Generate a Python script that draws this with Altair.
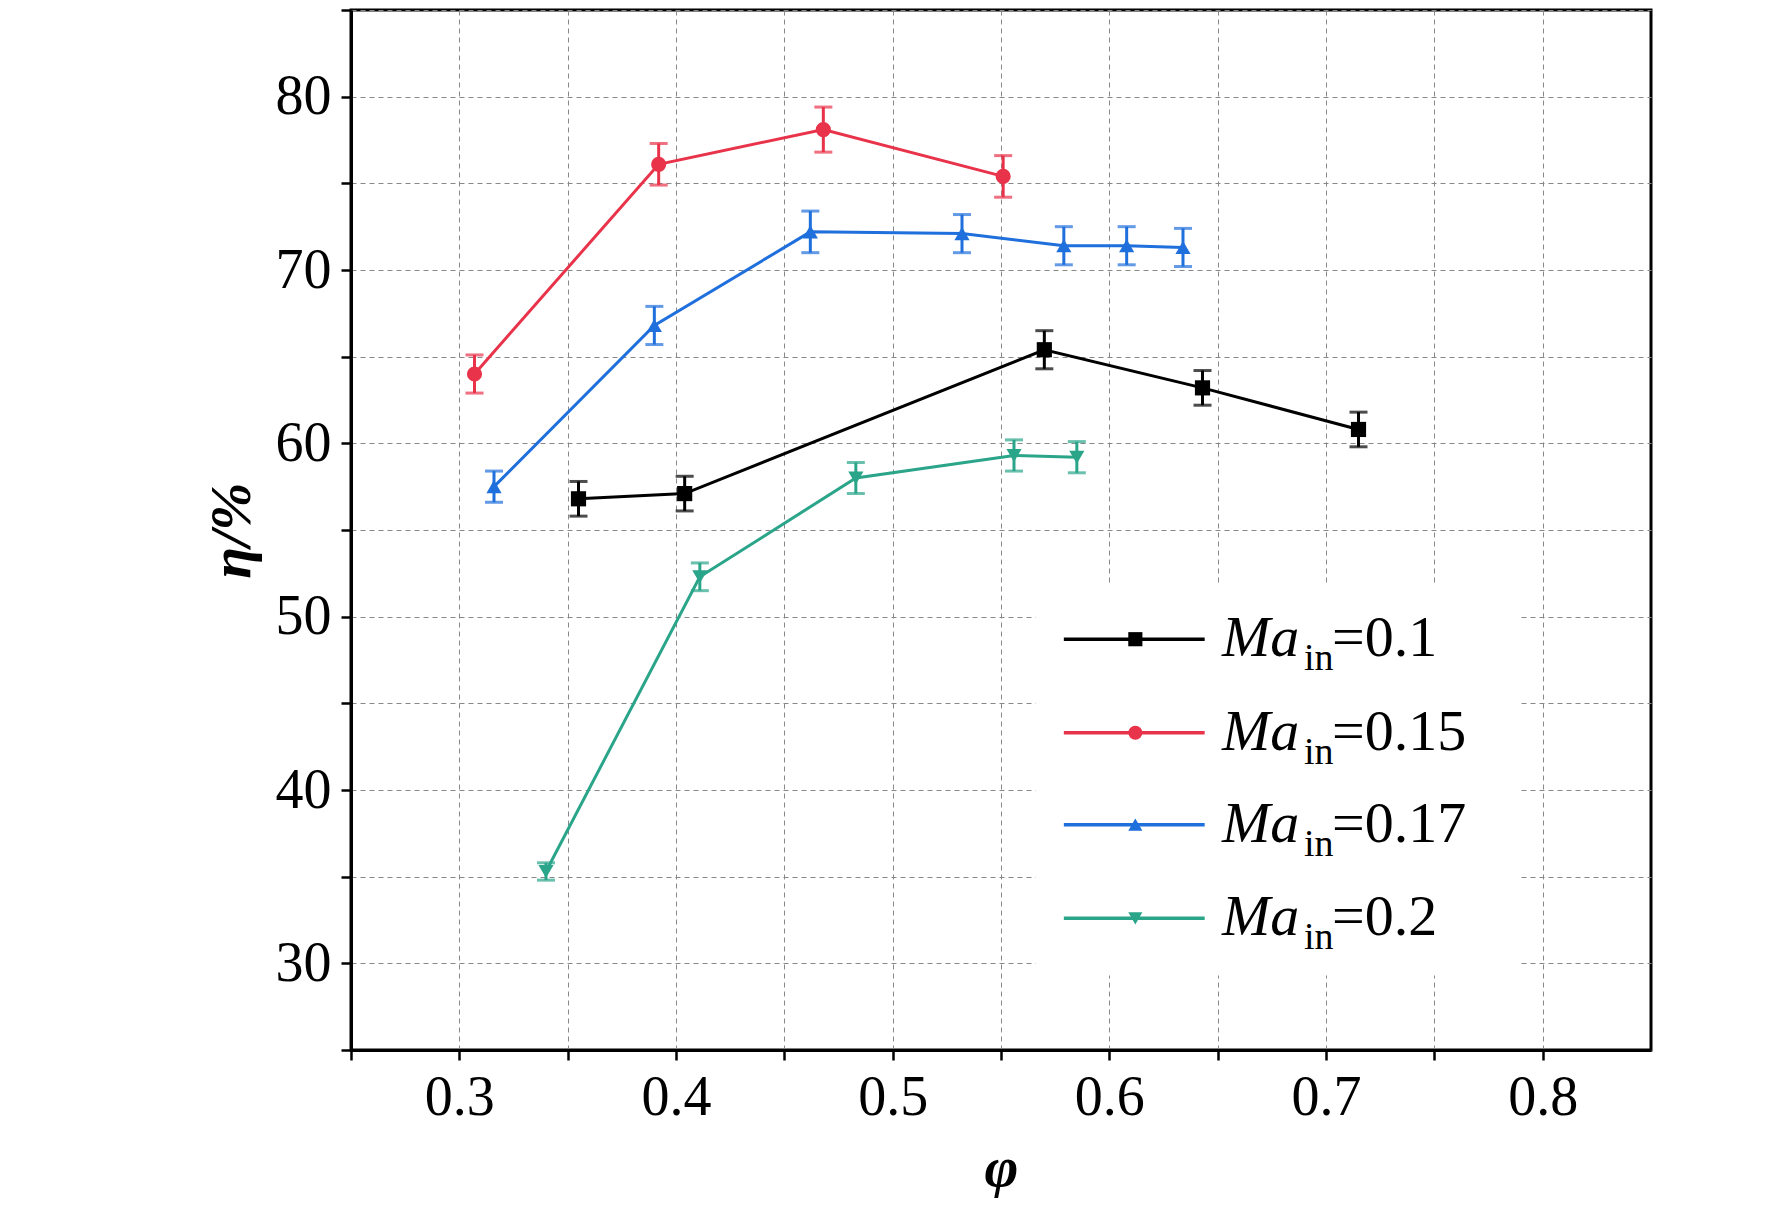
import altair as alt
import pandas as pd

# series: phi, eta, error half-width
phi_01 = [0.355, 0.404, 0.570, 0.643, 0.715]
eta_01 = [56.8, 57.1, 65.4, 63.2, 60.8]
err_01 = [1.0, 1.0, 1.1, 1.0, 1.0]

phi_015 = [0.307, 0.392, 0.468, 0.551]
eta_015 = [64.0, 76.1, 78.1, 75.4]
err_015 = [1.1, 1.2, 1.3, 1.2]

phi_017 = [0.316, 0.390, 0.462, 0.532, 0.579, 0.608, 0.634]
eta_017 = [57.5, 66.8, 72.2, 72.1, 71.4, 71.4, 71.3]
err_017 = [0.9, 1.1, 1.2, 1.1, 1.1, 1.1, 1.1]

phi_02 = [0.340, 0.411, 0.483, 0.556, 0.585]
eta_02 = [35.3, 52.3, 58.0, 59.3, 59.2]
err_02 = [0.5, 0.8, 0.9, 0.9, 0.9]

labels = ["=0.1", "=0.15", "=0.17", "=0.2"]
colors = ["#000000", "#e8334a", "#1f6fdc", "#2aa58a"]
shapes = ["square", "circle", "triangle-up", "triangle-down"]

rows = []
for lab, xs, ys, es in zip(labels, [phi_01, phi_015, phi_017, phi_02],
                           [eta_01, eta_015, eta_017, eta_02],
                           [err_01, err_015, err_017, err_02]):
    for x, y, e in zip(xs, ys, es):
        rows.append({"s": lab, "phi": x, "eta": y, "lo": y - e, "hi": y + e})
df = pd.DataFrame(rows)

# legend rows (in data units)
leg = pd.DataFrame({
    "s": labels,
    "y": [48.7, 43.3, 38.0, 32.6],
    "x1": [0.579] * 4, "x2": [0.644] * 4, "xm": [0.612] * 4,
    "xt": [0.652] * 4,
})
box = pd.DataFrame({"x": [0.566], "x2": [0.79], "y": [51.8], "y2": [29.3]})

FONT = "Liberation Serif"
xs_ = alt.Scale(domain=[0.25, 0.85], nice=False)
ys_ = alt.Scale(domain=[25, 85], nice=False)
col = alt.Color("s:N", scale=alt.Scale(domain=labels, range=colors), legend=None)
shp = alt.Shape("s:N", scale=alt.Scale(domain=labels, range=shapes), legend=None)

xax = alt.Axis(values=[0.25 + 0.05 * i for i in range(13)], title="φ",
               labelExpr="abs(datum.value*10 - round(datum.value*10)) < 0.01 ? format(datum.value, '.1f') : ''",
               titleFontStyle="italic")
yax = alt.Axis(values=list(range(25, 86, 5)), title="η/%",
               labelExpr="datum.value % 10 == 0 ? datum.value : ''",
               titleFontStyle="italic")

base = alt.Chart(df)
x = alt.X("phi:Q", scale=xs_, axis=xax)
y = alt.Y("eta:Q", scale=ys_, axis=yax)

lines = base.mark_line(strokeWidth=3).encode(x=x, y=y, color=col)
bars = base.mark_rule(strokeWidth=3).encode(x=x, y=alt.Y("lo:Q", scale=ys_), y2="hi:Q", color=col)
cap_lo = base.mark_tick(thickness=3, size=18, orient="horizontal").encode(x=x, y=alt.Y("lo:Q", scale=ys_), color=col)
cap_hi = base.mark_tick(thickness=3, size=18, orient="horizontal").encode(x=x, y=alt.Y("hi:Q", scale=ys_), color=col)
pts = base.mark_point(filled=True, size=230, opacity=1).encode(x=x, y=y, color=col, shape=shp)

bg = alt.Chart(box).mark_rect(color="white").encode(
    x=alt.X("x:Q", scale=xs_), x2="x2:Q", y=alt.Y("y:Q", scale=ys_), y2="y2:Q")
lc = alt.Chart(leg)
ly = alt.Y("y:Q", scale=ys_)
lx = alt.X("xt:Q", scale=xs_)
leg_line = lc.mark_rule(strokeWidth=3.5).encode(x=alt.X("x1:Q", scale=xs_), x2="x2:Q", y=ly, color=col)
leg_pt = lc.mark_point(filled=True, size=200, opacity=1).encode(x=alt.X("xm:Q", scale=xs_), y=ly, color=col, shape=shp)
leg_ma = lc.mark_text(text="Ma", font=FONT, fontSize=58, fontStyle="italic", align="left",
                      baseline="middle", color="black").encode(x=lx, y=ly)
leg_in = lc.mark_text(text="in", font=FONT, fontSize=38, align="left", baseline="middle",
                      dx=82, dy=20, color="black").encode(x=lx, y=ly)
leg_val = lc.mark_text(font=FONT, fontSize=58, align="left", baseline="middle",
                       dx=110, color="black").encode(x=lx, y=ly, text="s:N")

chart = alt.layer(lines, bars, cap_lo, cap_hi, pts, bg, leg_line, leg_pt, leg_ma, leg_in, leg_val).properties(
    width=1300, height=1040, background="white",
    padding={"left": 195, "top": 0, "right": 5, "bottom": 5}
).configure_view(stroke="black", strokeWidth=3).configure_axis(
    labelFont=FONT, titleFont=FONT, labelFontSize=56, titleFontSize=58,
    labelColor="black", titleColor="black", grid=True, gridColor="#888888",
    gridDash=[5, 4], gridWidth=1, domainColor="black", domainWidth=3,
    tickColor="black", tickWidth=2.5, tickSize=10, labelPadding=10, titlePadding=14
)

chart.save("out.html", embed_options={"renderer": "svg", "actions": False})
